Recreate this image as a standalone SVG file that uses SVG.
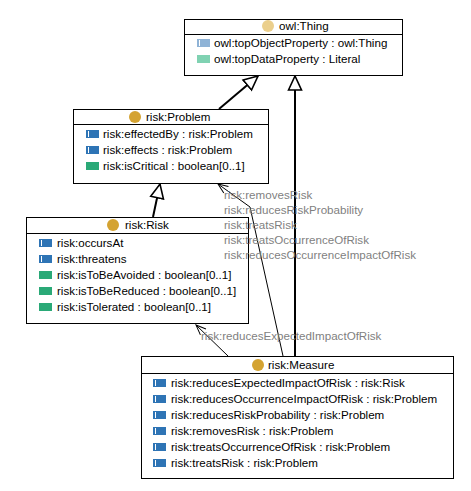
<svg xmlns="http://www.w3.org/2000/svg" width="471" height="491" viewBox="0 0 471 491">
<style>
  text { font-family: "Liberation Sans", Arial, sans-serif; font-size: 11.6px; fill: #000; }
  .lbl { fill: #7f7f7f; }
  .box { fill: #fff; stroke: #000; stroke-width: 1; }
  .sep { stroke: #000; stroke-width: 1; }
  .cls { fill: #d4a332; }
  .clsl { fill: #ebcf8c; }
  .op { fill: #2e74b5; }
  .opl { fill: #8fb3d6; }
  .dp { fill: #2aa977; }
  .dpl { fill: #80d2b2; }
  .stripe { stroke: #fff; stroke-width: 1; }
  .gen { stroke: #000; stroke-width: 2; fill: none; }
  .rel { stroke: #000; stroke-width: 1; fill: none; }
</style>
<defs>
  <marker id="tri" markerUnits="userSpaceOnUse" markerWidth="16" markerHeight="16" viewBox="0 0 16 16" refX="15" refY="8" orient="auto">
    <path d="M1,1.5 L15,8 L1,14.5 Z" fill="#fff" stroke="#000" stroke-width="1.6"/>
  </marker>
  <marker id="open" markerUnits="userSpaceOnUse" markerWidth="12" markerHeight="12" viewBox="0 0 12 12" refX="11" refY="6" orient="auto">
    <path d="M1,2 L11,6 L1,10" fill="none" stroke="#000" stroke-width="1"/>
  </marker>
</defs>

<g id="node-owl-thing">
  <rect class="box" x="184.5" y="19.5" width="218" height="56"/>
  <line class="sep" x1="184.5" y1="34.5" x2="402.5" y2="34.5"/>
  <circle class="clsl" cx="268" cy="26" r="6"/>
  <text x="279" y="30">owl:Thing</text>
  <rect class="opl" x="197" y="39" width="13" height="8"/>
  <line class="stripe" x1="199.5" y1="40" x2="199.5" y2="46"/>
  <text x="214" y="47">owl:topObjectProperty : owl:Thing</text>
  <rect class="dpl" x="197" y="55" width="13" height="8"/>
  <text x="214" y="63">owl:topDataProperty : Literal</text>
</g>

<g id="node-risk-problem">
  <rect class="box" x="73.5" y="109.5" width="195" height="74"/>
  <line class="sep" x1="73.5" y1="124.5" x2="268.5" y2="124.5"/>
  <circle class="cls" cx="135" cy="117" r="6"/>
  <text x="146" y="121">risk:Problem</text>
  <rect class="op" x="86" y="130" width="13" height="8"/>
  <line class="stripe" x1="88.5" y1="131" x2="88.5" y2="137"/>
  <text x="103" y="138">risk:effectedBy : risk:Problem</text>
  <rect class="op" x="86" y="146" width="13" height="8"/>
  <line class="stripe" x1="88.5" y1="147" x2="88.5" y2="153"/>
  <text x="103" y="154">risk:effects : risk:Problem</text>
  <rect class="dp" x="86" y="162" width="13" height="8"/>
  <text x="103" y="170">risk:isCritical : boolean[0..1]</text>
</g>

<g id="node-risk-risk">
  <rect class="box" x="26.5" y="217.5" width="222" height="106"/>
  <line class="sep" x1="26.5" y1="233.5" x2="248.5" y2="233.5"/>
  <circle class="cls" cx="113" cy="225" r="6"/>
  <text x="125" y="229">risk:Risk</text>
  <rect class="op" x="39" y="239" width="13" height="8"/>
  <line class="stripe" x1="41.5" y1="240" x2="41.5" y2="246"/>
  <text x="57" y="247">risk:occursAt</text>
  <rect class="op" x="39" y="255" width="13" height="8"/>
  <line class="stripe" x1="41.5" y1="256" x2="41.5" y2="262"/>
  <text x="57" y="263">risk:threatens</text>
  <rect class="dp" x="39" y="271" width="13" height="8"/>
  <text x="57" y="279">risk:isToBeAvoided : boolean[0..1]</text>
  <rect class="dp" x="39" y="287" width="13" height="8"/>
  <text x="57" y="295">risk:isToBeReduced : boolean[0..1]</text>
  <rect class="dp" x="39" y="303" width="13" height="8"/>
  <text x="57" y="311">risk:isTolerated : boolean[0..1]</text>
</g>

<g id="node-risk-measure">
  <rect class="box" x="141.5" y="356.5" width="312" height="122"/>
  <line class="sep" x1="141.5" y1="373.5" x2="453.5" y2="373.5"/>
  <circle class="cls" cx="258" cy="365" r="6"/>
  <text x="268" y="369">risk:Measure</text>
  <rect class="op" x="153" y="379" width="13" height="8"/>
  <line class="stripe" x1="155.5" y1="380" x2="155.5" y2="386"/>
  <text x="171" y="387">risk:reducesExpectedImpactOfRisk : risk:Risk</text>
  <rect class="op" x="153" y="395" width="13" height="8"/>
  <line class="stripe" x1="155.5" y1="396" x2="155.5" y2="402"/>
  <text x="171" y="403">risk:reducesOccurrenceImpactOfRisk : risk:Problem</text>
  <rect class="op" x="153" y="411" width="13" height="8"/>
  <line class="stripe" x1="155.5" y1="412" x2="155.5" y2="418"/>
  <text x="171" y="419">risk:reducesRiskProbability : risk:Problem</text>
  <rect class="op" x="153" y="427" width="13" height="8"/>
  <line class="stripe" x1="155.5" y1="428" x2="155.5" y2="434"/>
  <text x="171" y="435">risk:removesRisk : risk:Problem</text>
  <rect class="op" x="153" y="443" width="13" height="8"/>
  <line class="stripe" x1="155.5" y1="444" x2="155.5" y2="450"/>
  <text x="171" y="451">risk:treatsOccurrenceOfRisk : risk:Problem</text>
  <rect class="op" x="153" y="459" width="13" height="8"/>
  <line class="stripe" x1="155.5" y1="460" x2="155.5" y2="466"/>
  <text x="171" y="467">risk:treatsRisk : risk:Problem</text>
</g>

<g id="connectors">
  <line class="gen" x1="219" y1="109" x2="258" y2="76" marker-end="url(#tri)"/>
  <line class="gen" x1="295" y1="356" x2="295" y2="76" marker-end="url(#tri)"/>
  <line class="gen" x1="153" y1="217" x2="160" y2="184" marker-end="url(#tri)"/>
  <polyline class="rel" points="283,356 250,207 218,184" marker-end="url(#open)"/>
  <line class="rel" x1="228" y1="356" x2="196" y2="325" marker-end="url(#open)"/>
  <text class="lbl" x="224" y="199">risk:removesRisk</text>
  <text class="lbl" x="224" y="214">risk:reducesRiskProbability</text>
  <text class="lbl" x="224" y="229">risk:treatsRisk</text>
  <text class="lbl" x="224" y="244">risk:treatsOccurrenceOfRisk</text>
  <text class="lbl" x="224" y="259">risk:reducesOccurrenceImpactOfRisk</text>
  <text class="lbl" x="201" y="340">risk:reducesExpectedImpactOfRisk</text>
</g>
</svg>
